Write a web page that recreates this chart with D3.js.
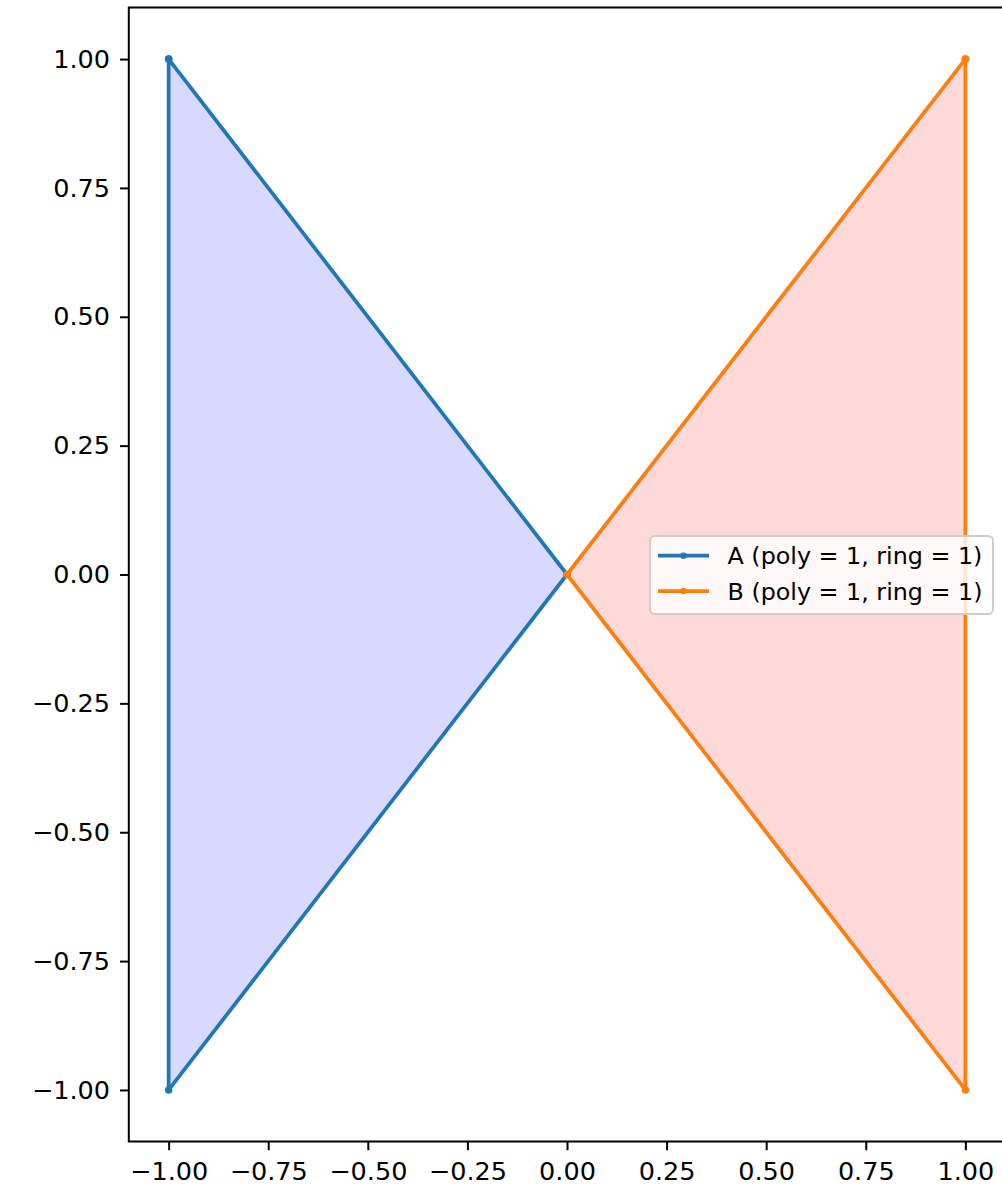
<!DOCTYPE html>
<html><head><meta charset="utf-8">
<script src="https://cdn.jsdelivr.net/npm/d3@7"></script>
<style>body{margin:0;background:#fff;} svg{display:block;}</style>
</head><body>
<script>
const seriesNames = ["A (poly = 1, ring = 1)", "B (poly = 1, ring = 1)"];
const seriesAx = [-1, 0, -1, -1];
const seriesAy = [1, 0, -1, 1];
const seriesBx = [1, 0, 1, 1];
const seriesBy = [1, 0, -1, 1];
const lineColors = ["#1f77b4", "#ff7f0e"];
const fillColors = ["rgba(0,0,255,0.15)", "rgba(255,0,0,0.15)"];
const xTicks = [-1.00, -0.75, -0.50, -0.25, 0.00, 0.25, 0.50, 0.75, 1.00];
const yTicks = [-1.00, -0.75, -0.50, -0.25, 0.00, 0.25, 0.50, 0.75, 1.00];

const W = 1002, H = 1190;
const svg = d3.select("body").append("svg").attr("width", W).attr("height", H);
const x = d3.scaleLinear().domain([-1.1, 1.1]).range([128.8, 1005.2]);
const y = d3.scaleLinear().domain([-1.1, 1.1]).range([1141.5, 7.5]);
const fmt = d => (d < 0 ? "\u2212" : "") + Math.abs(d).toFixed(2);

const series = [
  {xs: seriesAx, ys: seriesAy},
  {xs: seriesBx, ys: seriesBy}
];
const line = d3.line().x(d => x(d[0])).y(d => y(d[1]));
series.forEach((s, i) => {
  const pts = s.xs.map((v, j) => [v, s.ys[j]]);
  svg.append("path").attr("d", line(pts) + "Z").attr("fill", fillColors[i]).attr("stroke", "none");
});
series.forEach((s, i) => {
  const pts = s.xs.map((v, j) => [v, s.ys[j]]);
  svg.append("path").attr("d", line(pts)).attr("fill", "none")
    .attr("stroke", lineColors[i]).attr("stroke-width", 3.75).attr("stroke-linejoin", "round").attr("stroke-linecap", "square");
  svg.selectAll(null).data(pts).enter().append("circle")
    .attr("cx", d => x(d[0])).attr("cy", d => y(d[1])).attr("r", 3.8).attr("fill", lineColors[i]);
});

// axes
const font = "DejaVu Sans";
const xAxis = svg.append("g").attr("transform", `translate(0,${y.range()[0]})`)
  .call(d3.axisBottom(x).tickValues(xTicks).tickFormat(fmt).tickSizeOuter(0).tickSize(8.75).tickPadding(11.5));
const yAxis = svg.append("g").attr("transform", `translate(${x.range()[0]},0)`)
  .call(d3.axisLeft(y).tickValues(yTicks).tickFormat(fmt).tickSizeOuter(0).tickSize(8.75).tickPadding(10));
[xAxis, yAxis].forEach(g => {
  g.select(".domain").remove();
  g.selectAll(".tick line").attr("stroke", "#000").attr("stroke-width", 2);
  g.selectAll(".tick text").attr("font-family", font).attr("font-size", 25.5).attr("fill", "#000");
});
// spines
const [x0, x1] = x.range(), [y0, y1] = y.range();
svg.append("rect").attr("x", x0).attr("y", y1).attr("width", x1 - x0).attr("height", y0 - y1)
  .attr("fill", "none").attr("stroke", "#000").attr("stroke-width", 2);

// legend
const lg = svg.append("g");
lg.append("rect").attr("x", 650).attr("y", 536).attr("width", 343).attr("height", 78)
  .attr("rx", 5).attr("fill", "rgba(255,255,255,0.8)").attr("stroke", "#cccccc").attr("stroke-width", 2);
seriesNames.forEach((n, i) => {
  const yy = 555.7 + i * 35.3;
  lg.append("line").attr("x1", 658).attr("x2", 709).attr("y1", yy).attr("y2", yy)
    .attr("stroke", lineColors[i]).attr("stroke-width", 3.75);
  lg.append("circle").attr("cx", 683.5).attr("cy", yy).attr("r", 3.2).attr("fill", lineColors[i]);
  lg.append("text").attr("x", 727.5).attr("y", yy).attr("dy", "0.36em")
    .attr("font-family", font).attr("font-size", 23.8).attr("fill", "#000").text(n);
});
</script>
</body></html>
